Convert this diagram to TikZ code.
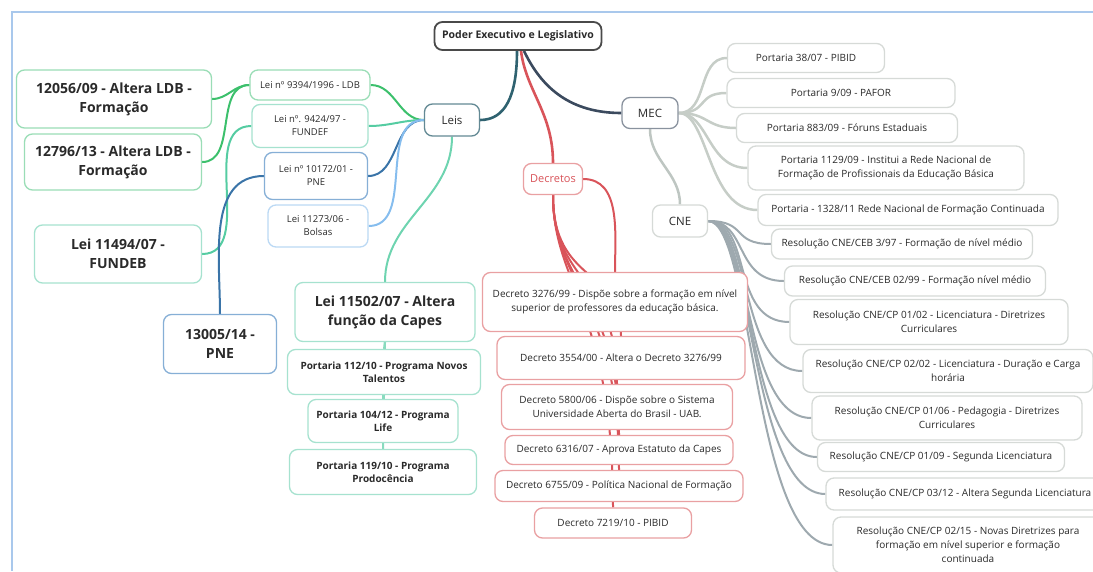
\documentclass[tikz,border=0pt]{standalone}
\usepackage{fontspec}
\setmainfont{Open Sans}
\usetikzlibrary{backgrounds}

\definecolor{txt}{HTML}{2A2A2A}
\definecolor{frame}{HTML}{A9C8EC}
\definecolor{rootc}{HTML}{4A4A4A}
\definecolor{leisc}{HTML}{2F6270}
\definecolor{mecc}{HTML}{3B4A5E}
\definecolor{redc}{HTML}{D9545A}
\definecolor{redb}{HTML}{E9A0A2}
\definecolor{greenc}{HTML}{3CC06C}
\definecolor{greenb}{HTML}{9ADDB6}
\definecolor{tealc}{HTML}{55CCA2}
\definecolor{tealb}{HTML}{A6E2CF}
\definecolor{bluec}{HTML}{3A74A8}
\definecolor{blueb}{HTML}{86AFD6}
\definecolor{lbluec}{HTML}{86BDEE}
\definecolor{lblueb}{HTML}{BBD9F4}
\definecolor{grayc}{HTML}{C6CDC7}
\definecolor{grayb}{HTML}{D6DAD7}
\definecolor{cnec}{HTML}{9EA9AF}

\begin{document}
\begin{tikzpicture}[x=1pt, y=-1pt,
        v/.style={draw, rounded corners=8pt, fill=white, align=center, line width=1.3pt,
            inner sep=2pt, text=txt, font=\fontsize{10}{14}\selectfont},
        big/.style={v, font=\fontsize{14}{19}\selectfont\bfseries},
        mid/.style={v, font=\fontsize{10}{13.5}\selectfont\bfseries},
        e/.style={line width=2pt},
        bw/.style={e, line width=2.6pt}
    ]
        \useasboundingbox (0,0) rectangle (1093,571);
        \clip (0,0) rectangle (1093,571);

        \node[v, draw=rootc, line width=1.8pt, font=\fontsize{10.5}{13}\selectfont\bfseries,
            minimum width=167pt, minimum height=28pt] (root) at (518,36) {Poder Executivo e Legislativo};
        \node[v, draw=leisc!75, font=\fontsize{11.5}{14}\selectfont, minimum width=55pt, minimum height=32pt] (leis) at (452,120) {Leis};
        \node[v, draw=mecc!60, font=\fontsize{11.5}{14}\selectfont, minimum width=56pt, minimum height=31pt] (mec) at (650,113) {MEC};
        \node[v, draw=redb, text=redc, font=\fontsize{11}{14}\selectfont, minimum width=59pt, minimum height=31pt] (dec) at (553,179) {Decretos};
        \node[v, draw=grayb, font=\fontsize{11.5}{14}\selectfont, minimum width=55pt, minimum height=32pt] (cne) at (680,221) {CNE};

        \node[v, draw=greenb, font=\fontsize{9.5}{13}\selectfont, minimum width=120pt, minimum height=30pt] (lei1) at (310,85) {Lei nº 9394/1996 - LDB};
        \node[v, draw=tealb, font=\fontsize{9.5}{13}\selectfont, minimum width=116pt, minimum height=43pt] (lei2) at (310,126) {Lei nº. 9424/97 -\\FUNDEF};
        \node[v, draw=blueb, font=\fontsize{9.5}{13}\selectfont, minimum width=103pt, minimum height=47pt] (lei3) at (316,176) {Lei nº 10172/01 -\\PNE};
        \node[v, draw=lblueb, font=\fontsize{9.5}{13}\selectfont, minimum width=100pt, minimum height=42pt] (lei4) at (318,226) {Lei 11273/06 -\\Bolsas};

        \node[big, draw=greenb, minimum width=195pt, minimum height=58pt] (alt1) at (114,99) {12056/09 - Altera LDB -\\Formação};
        \node[big, draw=greenb, minimum width=177pt, minimum height=56pt] (alt2) at (113,162) {12796/13 - Altera LDB -\\Formação};
        \node[big, draw=tealb, minimum width=167pt, minimum height=58pt] (fundeb) at (118,254) {Lei 11494/07 -\\FUNDEB};
        \node[big, draw=blueb, minimum width=113pt, minimum height=59pt] (pne) at (220,344) {13005/14 -\\PNE};
        \node[big, draw=tealb, minimum width=180pt, minimum height=59pt] (capes) at (385,312) {Lei 11502/07 - Altera\\função da Capes};
        \node[mid, draw=tealb, minimum width=193pt, minimum height=45pt] (port1) at (384,372) {Portaria 112/10 - Programa Novos\\Talentos};
        \node[mid, draw=tealb, minimum width=150pt, minimum height=43pt] (port2) at (383,421) {Portaria 104/12 - Programa\\Life};
        \node[mid, draw=tealb, minimum width=187pt, minimum height=45pt] (port3) at (383,472) {Portaria 119/10 - Programa\\Prodocência};

        \node[v, draw=redb, minimum width=265pt, minimum height=59pt] (dec1) at (615,302) {Decreto 3276/99 - Dispõe sobre a formação em nível\\superior de professores da educação básica.};
        \node[v, draw=redb, minimum width=248pt, minimum height=43pt] (dec2) at (621,358) {Decreto 3554/00 - Altera o Decreto 3276/99};
        \node[v, draw=redb, minimum width=231pt, minimum height=45pt] (dec3) at (617,407) {Decreto 5800/06 - Dispõe sobre o Sistema\\Universidade Aberta do Brasil - UAB.};
        \node[v, draw=redb, minimum width=228pt, minimum height=29pt] (dec4) at (619,450) {Decreto 6316/07 - Aprova Estatuto da Capes};
        \node[v, draw=redb, minimum width=248pt, minimum height=31pt] (dec5) at (619,486) {Decreto 6755/09 - Política Nacional de Formação};
        \node[v, draw=redb, minimum width=157pt, minimum height=30pt] (dec6) at (613,523) {Decreto 7219/10 - PIBID};

        \node[v, draw=grayb, minimum width=157pt, minimum height=29pt] (mec1) at (806,58) {Portaria 38/07 - PIBID};
        \node[v, draw=grayb, minimum width=228pt, minimum height=29pt] (mec2) at (841,93) {Portaria 9/09 - PAFOR};
        \node[v, draw=grayb, minimum width=221pt, minimum height=29pt] (mec3) at (847,128) {Portaria 883/09 - Fóruns Estaduais};
        \node[v, draw=grayb, minimum width=276pt, minimum height=44pt] (mec4) at (886,168) {Portaria 1129/09 - Institui a Rede Nacional de\\Formação de Profissionais da Educação Básica};
        \node[v, draw=grayb, minimum width=300pt, minimum height=31pt] (mec5) at (908,210) {Portaria - 1328/11 Rede Nacional de Formação Continuada};

        \node[v, draw=grayb, minimum width=261pt, minimum height=30pt] (cne1) at (902,244) {Resolução CNE/CEB 3/97 - Formação de nível médio};
        \node[v, draw=grayb, minimum width=261pt, minimum height=30pt] (cne2) at (915,281) {Resolução CNE/CEB 02/99 - Formação nível médio};
        \node[v, draw=grayb, minimum width=278pt, minimum height=45pt] (cne3) at (929,322) {Resolução CNE/CP 01/02 - Licenciatura - Diretrizes\\Curriculares};
        \node[v, draw=grayb, minimum width=290pt, minimum height=43pt] (cne4) at (948,371) {Resolução CNE/CP 02/02 - Licenciatura - Duração e Carga\\horária};
        \node[v, draw=grayb, minimum width=270pt, minimum height=44pt] (cne5) at (947,418) {Resolução CNE/CP 01/06 - Pedagogia - Diretrizes\\Curriculares};
        \node[v, draw=grayb, minimum width=247pt, minimum height=29pt] (cne6) at (941,457) {Resolução CNE/CP 01/09 - Segunda Licenciatura};
        \node[v, draw=grayb, minimum width=278pt, minimum height=32pt] (cne7) at (965,494) {Resolução CNE/CP 03/12 - Altera Segunda Licenciatura};
        \node[v, draw=grayb, minimum width=270pt, minimum height=56pt] (cne8) at (968,545) {Resolução CNE/CP 02/15 - Novas Diretrizes para\\formação em nível superior e formação\\continuada};

        \begin{scope}[on background layer]
            \draw[frame, line width=2.5pt] (12,571) -- (12,12) -- (1093,12);

            \draw[bw, leisc] ([xshift=-1pt]root.south) .. controls +(0,45) and +(25,0) .. (leis.east);
            \draw[bw, mecc] ([xshift=6pt]root.south) .. controls +(18,38) and +(-50,0) .. (mec.west);
            \draw[bw, redc] ([xshift=3pt]root.south) .. controls +(5,40) and +(0,-50) .. (dec.north);

            \draw[e, greenc] (leis.west) to[out=180, in=0] (lei1.east);
            \draw[e, tealc] (leis.west) to[out=180, in=0] (lei2.east);
            \draw[e, bluec] (leis.west) to[out=180, in=0] (lei3.east);
            \draw[e, lbluec] (leis.west) to[out=180, in=0] (lei4.east);
            \draw[e, tealc!85] (leis.south) to[out=-90, in=90] (capes.north);

            \draw[e, greenc] (lei1.west) to[out=180, in=0] (alt1.east);
            \draw[e, greenc] (lei1.west) to[out=180, in=0] (alt2.east);
            \draw[e, tealc] (lei2.west) to[out=180, in=0] (fundeb.east);
            \draw[e, bluec] (lei3.west) to[out=180, in=90] (pne.north);

            \draw[e, tealc!70] (capes.south) -- (port1.north);
            \draw[e, tealc!70] (capes.south) -- (port2.north);
            \draw[e, tealc!70] (capes.south) -- (port3.north);

            \draw[e, redc] (dec.east) to[out=0, in=90] (dec1.north);
            \draw[e, redc] (dec.south) .. controls +(0,90) and +(0,-70) .. (dec2.north);
            \draw[e, redc] (dec.south) .. controls +(0,90) and +(0,-110) .. (dec3.north);
            \draw[e, redc] (dec.south) .. controls +(0,90) and +(0,-140) .. (dec4.north);
            \draw[e, redc] (dec.south) .. controls +(0,90) and +(0,-170) .. (dec5.north);
            \draw[e, redc] (dec.south) .. controls +(0,90) and +(0,-200) .. (dec6.north);

            \draw[e, grayc, line width=2.5pt] (mec.east) .. controls +(30,0) and +(-30,0) .. (mec1.west);
            \draw[e, grayc, line width=2.5pt] (mec.east) .. controls +(30,0) and +(-30,0) .. (mec2.west);
            \draw[e, grayc, line width=2.5pt] (mec.east) .. controls +(30,0) and +(-30,0) .. (mec3.west);
            \draw[e, grayc, line width=2.5pt] (mec.east) .. controls +(30,0) and +(-40,0) .. (mec4.west);
            \draw[e, grayc, line width=2.5pt] (mec.east) .. controls +(30,0) and +(-50,0) .. (mec5.west);
            \draw[e, grayc!80!cnec, line width=2.5pt] (mec.south) to[out=-90, in=90] (cne.north);

            \draw[e, cnec] (cne.east) .. controls +(40,0) and +(-40,0) .. (cne1.west);
            \draw[e, cnec] (cne.east) .. controls +(40,0) and +(-50,0) .. (cne2.west);
            \draw[e, cnec] (cne.east) .. controls +(45,0) and +(-60,0) .. (cne3.west);
            \draw[e, cnec] (cne.east) .. controls +(45,0) and +(-65,0) .. (cne4.west);
            \draw[e, cnec] (cne.east) .. controls +(45,0) and +(-70,0) .. (cne5.west);
            \draw[e, cnec] (cne.east) .. controls +(45,0) and +(-70,0) .. (cne6.west);
            \draw[e, cnec] (cne.east) .. controls +(45,0) and +(-75,0) .. (cne7.west);
            \draw[e, cnec] (cne.east) .. controls +(45,0) and +(-80,0) .. (cne8.west);
        \end{scope}
    \end{tikzpicture}
\end{document}
